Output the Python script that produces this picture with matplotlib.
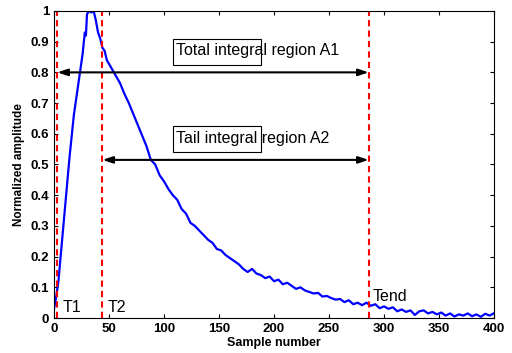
import matplotlib.pyplot as plt
from matplotlib.patches import Rectangle

plt.rcParams['font.family'] = ['Liberation Sans', 'DejaVu Sans']

# pulse
samples = [0, 2, 4, 6, 8, 10, 12, 14, 16, 18, 20, 22, 24, 26, 28, 29, 30, 32, 34, 36,
           38, 40, 42, 44, 46, 48, 52, 56, 60, 64, 68, 72, 76, 80, 84, 88, 92, 96,
           100, 104, 108, 112, 116, 120, 124, 128, 132, 136, 140, 144, 148, 152, 156,
           160, 164, 168, 172, 176, 180, 184, 188, 192, 196, 200, 204, 208, 212, 216,
           220, 224, 228, 232, 236, 240, 244, 248, 252, 256, 260, 264, 268, 272, 276,
           280, 284, 288, 292, 296, 300, 304, 308, 312, 316, 320, 324, 328, 332, 336,
           340, 344, 348, 352, 356, 360, 364, 368, 372, 376, 380, 384, 388, 392, 396, 400]
amplitude = [0.03, 0.07, 0.12, 0.2, 0.28, 0.36, 0.44, 0.52, 0.59, 0.66, 0.71, 0.76, 0.81,
             0.86, 0.93, 0.92, 0.99, 1.0, 0.995, 1.0, 0.97, 0.93, 0.91, 0.88, 0.87, 0.84,
             0.815, 0.79, 0.765, 0.73, 0.70, 0.665, 0.63, 0.595, 0.56, 0.515, 0.50, 0.465,
             0.445, 0.42, 0.40, 0.385, 0.355, 0.34, 0.31, 0.30, 0.285, 0.27, 0.255, 0.245,
             0.225, 0.22, 0.205, 0.195, 0.185, 0.175, 0.16, 0.15, 0.16, 0.145, 0.14, 0.13,
             0.135, 0.12, 0.125, 0.11, 0.115, 0.105, 0.095, 0.1, 0.09, 0.085, 0.08, 0.082,
             0.07, 0.072, 0.065, 0.06, 0.062, 0.052, 0.058, 0.045, 0.05, 0.042, 0.05, 0.04,
             0.045, 0.032, 0.038, 0.03, 0.035, 0.022, 0.028, 0.02, 0.025, 0.01, 0.022,
             0.025, 0.015, 0.02, 0.012, 0.018, 0.008, 0.015, 0.005, 0.012, 0.008, 0.015,
             0.006, 0.012, 0.004, 0.014, 0.008, 0.016]

markers = [3, 44, 286]
marker_names = ['T1', 'T2', 'Tend']
regions = ['Total integral region A1', 'Tail integral region A2']
region_start = [3, 44]
region_y = [0.8, 0.515]

fig = plt.figure(figsize=(5.12, 3.53), dpi=100)
ax = fig.add_axes([0.1055, 0.099, 0.8595, 0.870])

ax.plot(samples, amplitude, color='#0000ff', lw=1.6)
for m in markers:
    ax.axvline(m, color='red', ls=(0, (3, 2)), lw=1.5)

ax.text(8, 0.01, 'T1', fontsize=11.5, va='bottom')
ax.text(49, 0.01, 'T2', fontsize=11.5, va='bottom')
ax.text(290, 0.045, 'Tend', fontsize=11.5, va='bottom')

for name, x0, y in zip(regions, region_start, region_y):
    ax.annotate('', xy=(markers[2], y), xytext=(x0, y),
                arrowprops=dict(arrowstyle='<|-|>,head_length=0.6,head_width=0.2',
                                color='black', lw=1.5, shrinkA=0, shrinkB=0))
    ax.text(111, y + 0.07, name, fontsize=11.5, va='center')
    ax.add_patch(Rectangle((108, y + 0.025), 80, 0.085, fill=False, lw=0.8,
                           edgecolor='black'))

ax.set_xlim(0, 400)
ax.set_ylim(0, 1)
ax.set_xticks(range(0, 401, 50))
ax.set_yticks([i / 10 for i in range(11)])
ax.set_yticklabels(['0', '0.1', '0.2', '0.3', '0.4', '0.5', '0.6', '0.7', '0.8', '0.9', '1'])
ax.tick_params(direction='in', top=True, right=True, labelsize=9.5, length=3)
for lab in ax.get_xticklabels() + ax.get_yticklabels():
    lab.set_fontweight('bold')
ax.set_xlabel('Sample number', fontsize=9, fontweight='bold', labelpad=1.5)
ax.set_ylabel('Normalized amplitude', fontsize=8.5, fontweight='bold', labelpad=4)

fig.savefig('out.png', dpi=100)
